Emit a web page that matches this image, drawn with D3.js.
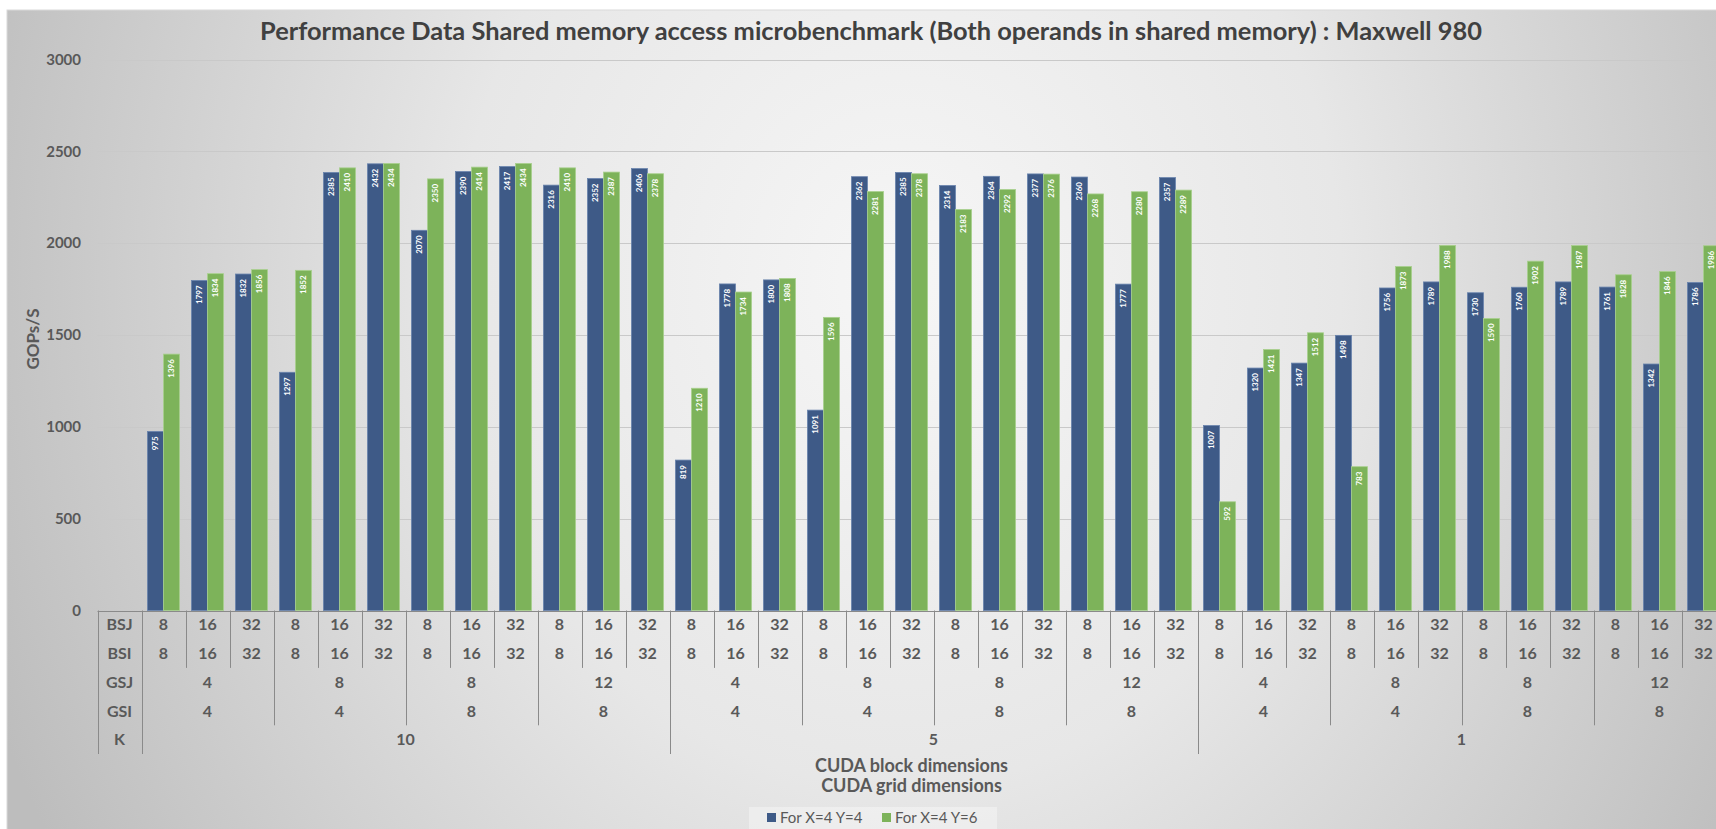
<!DOCTYPE html>
<html>
<head>
<meta charset="utf-8">
<script src="https://cdn.jsdelivr.net/npm/d3@7"></script>
<style>
  html, body { margin: 0; padding: 0; background: #ffffff; overflow: hidden; }
  svg { display: block; }
</style>
</head>
<body>
<svg id="chart" width="1716" height="829"></svg>
<script>
// ---- Data ---------------------------------------------------------------
const chartTitle = "Performance Data Shared memory access microbenchmark (Both operands in shared memory) : Maxwell 980";
const yTitle = "GOPs/S";
const xTitles = ["CUDA block dimensions", "CUDA grid dimensions"];
const seriesNames = ["For X=4 Y=4", "For X=4 Y=6"];

// Category hierarchy (innermost first): block size (BSJ = BSI), grid size (GSJ, GSI), K
const rowLabels = ["BSJ", "BSI", "GSJ", "GSI", "K"];
const blockSizes = [8, 16, 32];
const gridSJ = [4, 8, 8, 12];
const gridSI = [4, 4, 8, 8];
const kValues = [10, 5, 1];

const yTicks = [0, 500, 1000, 1500, 2000, 2500, 3000];

const valuesXY44 = [
  975, 1797, 1832, 1297, 2385, 2432, 2070, 2390, 2417, 2316, 2352, 2406,
  819, 1778, 1800, 1091, 2362, 2385, 2314, 2364, 2377, 2360, 1777, 2357,
  1007, 1320, 1347, 1498, 1756, 1789, 1730, 1760, 1789, 1761, 1342, 1786
];
const valuesXY46 = [
  1396, 1834, 1856, 1852, 2410, 2434, 2350, 2414, 2434, 2410, 2387, 2378,
  1210, 1734, 1808, 1596, 2281, 2378, 2183, 2292, 2376, 2268, 2280, 2289,
  592, 1421, 1512, 783, 1873, 1988, 1590, 1902, 1987, 1828, 1846, 1986
];

// ---- Build category table ----------------------------------------------
const categories = [];
kValues.forEach(k => {
  gridSJ.forEach((gsj, gi) => {
    blockSizes.forEach(bs => {
      categories.push({ bsj: bs, bsi: bs, gsj: gsj, gsi: gridSI[gi], k: k });
    });
  });
});
const series = [valuesXY44, valuesXY46];
const colors = ["#3e5a87", "#7db35a"];
const edgeColors = ["#6a84ad", "#a9d08e"];

// ---- Layout ---------------------------------------------------------------
const W = 1716, H = 829;
const tableLeft = 97.5;
const catLeft = 141.5;
const catStep = 44;
const plotTop = 59.5, plotBottom = 610.5;
const rowH = 28.7;
const font = "Lato, 'Open Sans', sans-serif";
const textGrey = "#595959";
const lineGrey = "#8a8a8a";

const svg = d3.select("#chart");
const defs = svg.append("defs");

// Chart-area background: soft radial grey gradient
const grad = defs.append("radialGradient")
  .attr("id", "bgGrad")
  .attr("gradientUnits", "userSpaceOnUse")
  .attr("cx", 900).attr("cy", 280).attr("r", 980)
  .attr("gradientTransform", "translate(900,280) scale(1,1.15) translate(-900,-280)");
grad.append("stop").attr("offset", 0).attr("stop-color", "#f6f6f6");
grad.append("stop").attr("offset", 0.45).attr("stop-color", "#e7e7e7");
grad.append("stop").attr("offset", 1).attr("stop-color", "#bdbdbd");

svg.append("rect")
  .attr("x", 7).attr("y", 10)
  .attr("width", W + 40).attr("height", H + 40)
  .attr("fill", "url(#bgGrad)")
  .attr("stroke", "#d9d9d9");

// ---- Scales -----------------------------------------------------------------
const y = d3.scaleLinear().domain([0, 3000]).range([plotBottom, plotTop]);
const x0 = d3.scaleBand()
  .domain(d3.range(categories.length))
  .range([catLeft, catLeft + catStep * categories.length])
  .paddingInner(0.27)
  .paddingOuter(0.135);
const x1 = d3.scaleBand().domain([0, 1]).range([0, x0.bandwidth()]);

// ---- Gridlines & y labels ------------------------------------------------
svg.append("g")
  .selectAll("line")
  .data(yTicks.filter(t => t > 0))
  .join("line")
  .attr("x1", tableLeft).attr("x2", W)
  .attr("y1", d => Math.round(y(d)) + 0.5).attr("y2", d => Math.round(y(d)) + 0.5)
  .attr("stroke", "#c9c9c9")
  .attr("stroke-width", 1);

const yAxis = d3.axisLeft(y).tickValues(yTicks).tickFormat(d3.format("d")).tickSize(0).tickPadding(0);
const yG = svg.append("g").attr("transform", "translate(81,0)").call(yAxis);
yG.select(".domain").remove();
yG.selectAll("text")
  .attr("font-family", font)
  .attr("font-size", 15)
  .attr("font-weight", 700)
  .attr("fill", textGrey);

svg.append("text")
  .attr("transform", "translate(39,339) rotate(-90)")
  .attr("text-anchor", "middle")
  .attr("font-family", font)
  .attr("font-size", 17)
  .attr("font-weight", 700)
  .attr("fill", textGrey)
  .text(yTitle);

// ---- Bars -------------------------------------------------------------------
const barG = svg.append("g");
const barData = [];
categories.forEach((c, i) => {
  series.forEach((vals, s) => barData.push({ i, s, v: vals[i] }));
});

barG.selectAll("rect")
  .data(barData)
  .join("rect")
  .attr("x", d => x0(d.i) + x1(d.s))
  .attr("y", d => y(d.v))
  .attr("width", x1.bandwidth())
  .attr("height", d => y(0) - y(d.v))
  .attr("fill", d => colors[d.s])
  .attr("stroke", d => edgeColors[d.s])
  .attr("stroke-width", 0.8);

// Value labels, rotated, inside the top of each bar
barG.selectAll("text")
  .data(barData)
  .join("text")
  .attr("transform", d => `translate(${x0(d.i) + x1(d.s) + x1.bandwidth() / 2},${y(d.v) + 5}) rotate(-90)`)
  .attr("text-anchor", "end")
  .attr("dy", "0.35em")
  .attr("font-family", font)
  .attr("font-size", 8)
  .attr("font-weight", 700)
  .attr("fill", "#ffffff")
  .text(d => d.v);

// ---- Category table under the axis ----------------------------------------
const tbl = svg.append("g");
const rowY = i => plotBottom + rowH * (i + 0.5);
const rowBottom = n => plotBottom + rowH * n;

// baseline
tbl.append("line")
  .attr("x1", tableLeft).attr("x2", W)
  .attr("y1", Math.round(plotBottom) + 0.5).attr("y2", Math.round(plotBottom) + 0.5)
  .attr("stroke", lineGrey);

// vertical separators: per category (2 rows), per grid group (4 rows), per K group (5 rows)
const sepData = [];
sepData.push({ x: tableLeft, rows: 5 });
for (let i = 0; i <= categories.length; i++) {
  let rows = 2;
  if (i % 3 === 0) rows = 4;
  if (i % 12 === 0) rows = 5;
  sepData.push({ x: catLeft + catStep * i, rows });
}
tbl.selectAll("line.sep")
  .data(sepData)
  .join("line")
  .attr("class", "sep")
  .attr("x1", d => Math.round(d.x) + 0.5).attr("x2", d => Math.round(d.x) + 0.5)
  .attr("y1", plotBottom).attr("y2", d => rowBottom(d.rows))
  .attr("stroke", lineGrey);

const tableText = sel => sel
  .attr("text-anchor", "middle")
  .attr("dy", "0.35em")
  .attr("font-family", font)
  .attr("font-size", 16)
  .attr("font-weight", 700)
  .attr("fill", textGrey);

// row headers
tbl.selectAll("text.rowhead")
  .data(rowLabels)
  .join("text")
  .attr("class", "rowhead")
  .attr("x", (tableLeft + catLeft) / 2)
  .attr("y", (d, i) => rowY(i))
  .call(tableText)
  .text(d => d);

// BSJ / BSI rows
["bsj", "bsi"].forEach((key, r) => {
  tbl.selectAll(`text.${key}`)
    .data(categories)
    .join("text")
    .attr("class", key)
    .attr("x", (d, i) => catLeft + catStep * (i + 0.5))
    .attr("y", rowY(r))
    .call(tableText)
    .text(d => d[key]);
});

// GSJ / GSI rows (one label per group of block sizes)
const gridGroups = d3.range(categories.length / blockSizes.length).map(g => ({
  g, c: categories[g * blockSizes.length]
}));
["gsj", "gsi"].forEach((key, r) => {
  tbl.selectAll(`text.${key}`)
    .data(gridGroups)
    .join("text")
    .attr("class", key)
    .attr("x", d => catLeft + catStep * blockSizes.length * (d.g + 0.5))
    .attr("y", rowY(r + 2))
    .call(tableText)
    .text(d => d.c[key]);
});

// K row
const perK = blockSizes.length * gridSJ.length;
tbl.selectAll("text.k")
  .data(kValues)
  .join("text")
  .attr("class", "k")
  .attr("x", (d, i) => catLeft + catStep * perK * (i + 0.5))
  .attr("y", rowY(4))
  .call(tableText)
  .text(d => d);

// ---- Axis titles ----------------------------------------------------------
const xTitleX = (tableLeft + catLeft + catStep * categories.length) / 2;
svg.selectAll("text.xtitle")
  .data(xTitles)
  .join("text")
  .attr("class", "xtitle")
  .attr("x", xTitleX)
  .attr("y", (d, i) => 766 + i * 20)
  .attr("text-anchor", "middle")
  .attr("dy", "0.35em")
  .attr("font-family", font)
  .attr("font-size", 18)
  .attr("font-weight", 700)
  .attr("fill", textGrey)
  .text(d => d);

// ---- Chart title ------------------------------------------------------------
svg.append("text")
  .attr("x", 871)
  .attr("y", 31)
  .attr("text-anchor", "middle")
  .attr("dy", "0.35em")
  .attr("font-family", font)
  .attr("font-size", 25.4)
  .attr("font-weight", 700)
  .attr("fill", "#404040")
  .text(chartTitle);

// ---- Legend -----------------------------------------------------------------
const legend = svg.append("g").attr("transform", "translate(749,807)");
legend.append("rect")
  .attr("width", 248).attr("height", 22)
  .attr("fill", "#ffffff").attr("opacity", 0.35);
const items = legend.selectAll("g.item")
  .data(seriesNames)
  .join("g")
  .attr("class", "item")
  .attr("transform", (d, i) => `translate(${18 + i * 115},0)`);
items.append("rect")
  .attr("y", 6).attr("width", 9).attr("height", 9)
  .attr("fill", (d, i) => colors[i]);
items.append("text")
  .attr("x", 13).attr("y", 11)
  .attr("dy", "0.35em")
  .attr("font-family", font)
  .attr("font-size", 15)
  .attr("fill", textGrey)
  .text(d => d);
</script>
</body>
</html>
